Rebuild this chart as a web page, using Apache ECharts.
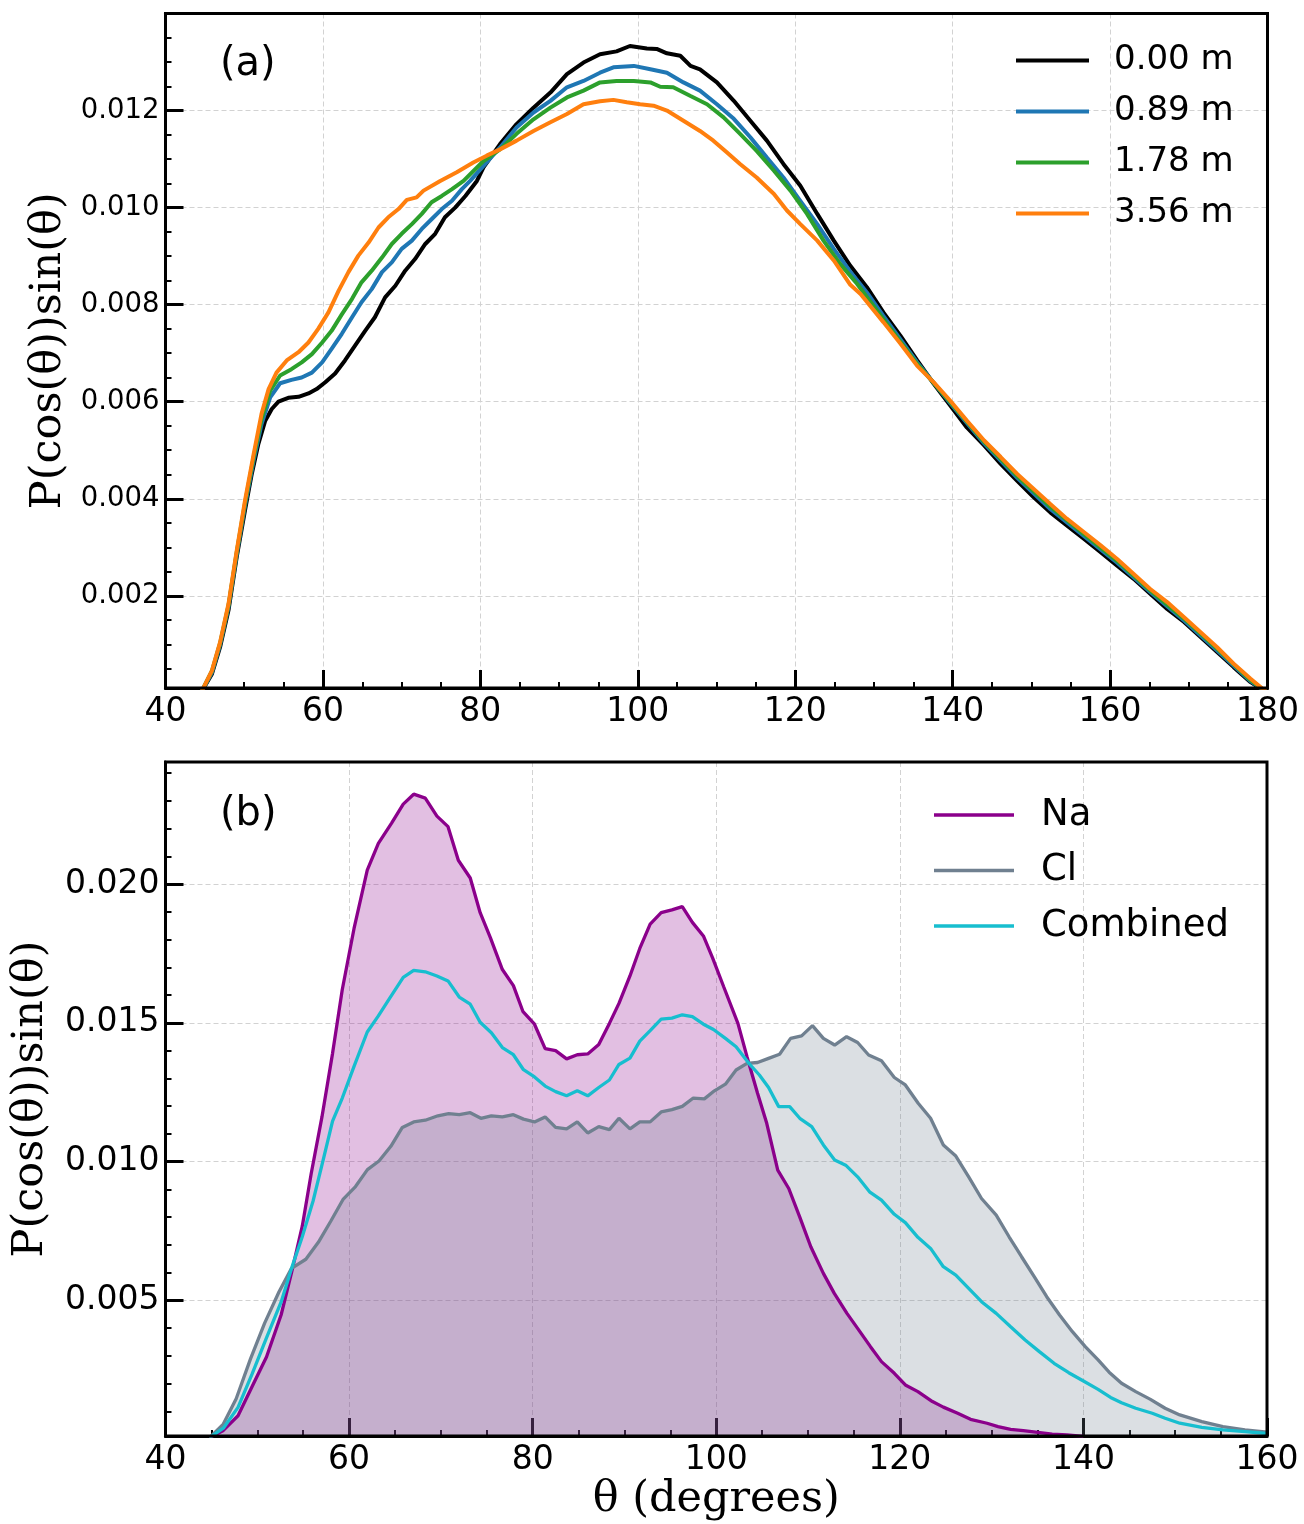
<!DOCTYPE html>
<html><head><meta charset="utf-8">
<script src="https://cdn.jsdelivr.net/npm/echarts@6/dist/echarts.min.js"></script>
<style>html,body{margin:0;padding:0;background:#fff}#c{width:1304px;height:1524px}</style>
</head><body><div id="c"></div>
<script>
// ---------- Panel (a) data: theta (deg), P(cos)sin ----------
const aNames = ['0.00 m', '0.89 m', '1.78 m', '3.56 m'];
const aColors = ['#000000', '#1f77b4', '#2ca02c', '#ff7f0e'];
const a000 = [[44.5,0],[45.9,0.00039],[46.93,0.00094],[48.0,0.00170],[49.05,0.00280],[50.1,0.00376],[50.96,0.00451],[51.8,0.00513],[52.65,0.00560],[53.5,0.00585],[54.35,0.00600],[55.6,0.00608],[56.9,0.00610],[58.16,0.00617],[59.2,0.00626],[60.3,0.00640],[61.55,0.00658],[62.8,0.00685],[64.1,0.00716],[65.36,0.00746],[66.6,0.00774],[67.9,0.00815],[69.2,0.00839],[70.45,0.00870],[71.7,0.00894],[73.0,0.00925],[74.26,0.00946],[75.5,0.00980],[76.8,0.01000],[78.1,0.01024],[79.56,0.01055],[80.4,0.01083],[82.5,0.01131],[84.6,0.01172],[86.75,0.01206],[88.9,0.01237],[91.0,0.01275],[93.1,0.01299],[95.2,0.01316],[97.3,0.01322],[99.0,0.01333],[101.15,0.01328],[102.4,0.01327],[103.7,0.01318],[105.4,0.01313],[106.7,0.01292],[107.9,0.01285],[110.05,0.01258],[112.2,0.01220],[114.3,0.01179],[116.4,0.01138],[118.5,0.01090],[120.65,0.01045],[122.8,0.00987],[124.9,0.00932],[127.0,0.00880],[129.1,0.00836],[131.2,0.00784],[133.36,0.00736],[135.5,0.00685],[137.6,0.00637],[139.7,0.00592],[141.8,0.00547],[144.0,0.00510],[146.1,0.00472],[148.2,0.00437],[150.3,0.00403],[152.4,0.00372],[154.5,0.00345],[156.7,0.00317],[158.8,0.00290],[160.9,0.00262],[163.0,0.00235],[165.1,0.00204],[167.25,0.00173],[169.4,0.00146],[171.5,0.00115],[173.6,0.00084],[175.7,0.00053],[177.85,0.00022],[180,0]];
const a089 = [[44.5,0],[45.9,0.00042],[46.93,0.00099],[48.0,0.00177],[49.05,0.00286],[50.1,0.00386],[51.2,0.00479],[52.2,0.00554],[53.3,0.00609],[54.56,0.00638],[56.0,0.00645],[57.3,0.00650],[58.6,0.00660],[59.9,0.00681],[61.1,0.00709],[62.4,0.00740],[63.7,0.00774],[64.9,0.00805],[66.2,0.00832],[67.5,0.00867],[68.75,0.00887],[70.0,0.00915],[71.3,0.00932],[72.56,0.00956],[73.8,0.00976],[75.1,0.00997],[76.4,0.01014],[77.65,0.01038],[78.7,0.01055],[80.4,0.01086],[82.5,0.01124],[84.6,0.01165],[86.75,0.01196],[88.9,0.01220],[91.0,0.01248],[93.1,0.01261],[95.2,0.01278],[96.9,0.01289],[99.5,0.01292],[101.6,0.01285],[103.7,0.01278],[105.8,0.01258],[107.9,0.01241],[110.05,0.01213],[112.2,0.01183],[114.3,0.01145],[116.4,0.01103],[118.5,0.01062],[120.65,0.01014],[122.8,0.00966],[124.9,0.00915],[127.0,0.00868],[129.1,0.00825],[131.2,0.00777],[135.5,0.00681],[139.7,0.00597],[144.0,0.00514],[148.2,0.00443],[152.4,0.00379],[156.7,0.00323],[160.9,0.00268],[165.1,0.00208],[169.4,0.00149],[173.6,0.00087],[177.85,0.00024],[180,0]];
const a178 = [[44.5,0],[45.9,0.00045],[46.93,0.00102],[48.0,0.00180],[49.05,0.00290],[50.1,0.00391],[51.2,0.00486],[52.2,0.00564],[53.3,0.00623],[54.56,0.00654],[56.0,0.00667],[57.3,0.00681],[58.6,0.00698],[59.9,0.00722],[61.1,0.00746],[62.4,0.00780],[63.7,0.00812],[64.9,0.00846],[66.2,0.00870],[67.5,0.00897],[68.75,0.00925],[70.0,0.00946],[71.3,0.00966],[72.56,0.00987],[73.8,0.01011],[75.1,0.01024],[76.4,0.01038],[77.86,0.01055],[80.4,0.01096],[82.5,0.01120],[84.6,0.01152],[86.75,0.01182],[88.9,0.01206],[91.0,0.01227],[93.1,0.01241],[95.2,0.01258],[97.3,0.01261],[99.5,0.01261],[101.6,0.01258],[102.85,0.01249],[104.5,0.01248],[106.7,0.01230],[108.8,0.01213],[110.9,0.01186],[113.0,0.01152],[115.1,0.01117],[117.3,0.01076],[119.4,0.01035],[121.5,0.00987],[123.6,0.00932],[125.7,0.00884],[127.85,0.00843],[131.2,0.00770],[135.5,0.00678],[139.7,0.00599],[144.0,0.00517],[148.2,0.00447],[152.4,0.00384],[156.7,0.00327],[160.9,0.00272],[165.1,0.00211],[169.4,0.00153],[173.6,0.00091],[177.85,0.00026],[180,0]];
const a356 = [[44.5,0],[45.9,0.00046],[46.93,0.00104],[48.0,0.00183],[49.05,0.00293],[50.1,0.00396],[51.2,0.00492],[52.2,0.00575],[53.1,0.00626],[54.1,0.00660],[55.4,0.00685],[56.9,0.00702],[58.16,0.00722],[59.4,0.00750],[60.7,0.00784],[62.0,0.00829],[63.24,0.00867],[64.5,0.00901],[65.8,0.00928],[67.06,0.00959],[68.3,0.00980],[69.6,0.00997],[70.66,0.01016],[71.9,0.01021],[72.78,0.01035],[74.9,0.01055],[77.0,0.01073],[79.1,0.01093],[80.8,0.01107],[82.5,0.01120],[84.6,0.01138],[86.75,0.01158],[88.9,0.01176],[91.0,0.01193],[93.1,0.01213],[95.2,0.01219],[96.9,0.01222],[98.6,0.01217],[100.3,0.01213],[102.0,0.01210],[103.7,0.01200],[105.8,0.01179],[107.9,0.01158],[109.6,0.01138],[111.3,0.01114],[112.99,0.01090],[115.1,0.01062],[117.3,0.01028],[118.95,0.00994],[120.65,0.00966],[122.8,0.00932],[124.9,0.00891],[127.0,0.00841],[128.3,0.00822],[131.2,0.00764],[133.36,0.00720],[135.5,0.00674],[137.6,0.00640],[139.7,0.00602],[141.8,0.00561],[144.0,0.00520],[146.1,0.00486],[148.2,0.00451],[150.3,0.00420],[152.4,0.00389],[154.5,0.00359],[156.7,0.00331],[158.8,0.00304],[160.9,0.00276],[163.0,0.00245],[165.1,0.00214],[167.25,0.00187],[169.4,0.00156],[171.5,0.00125],[173.6,0.00094],[175.7,0.00060],[177.85,0.00029],[180,0]];
const aYTicks = [0.002, 0.004, 0.006, 0.008, 0.010, 0.012];
const aYMinor = [0.0005,0.001,0.0015,0.0025,0.003,0.0035,0.0045,0.005,0.0055,0.0065,0.007,0.0075,0.0085,0.009,0.0095,0.0105,0.011,0.0115,0.0125,0.013,0.0135];

// ---------- Panel (b) data ----------
const bNames = ['Na', 'Cl', 'Combined'];
const bNa = [[44.8,0.00005],[46.3,0.00031],[47.9,0.00084],[49.45,0.00190],[51.0,0.00296],[52.6,0.00448],[53.73,0.00600],[54.9,0.00767],[55.87,0.00956],[57.04,0.01160],[58.2,0.01390],[59.26,0.01620],[60.54,0.01840],[61.98,0.02050],[63.19,0.02147],[64.63,0.02220],[65.9,0.02288],[67.04,0.02324],[68.3,0.02310],[69.57,0.02245],[70.78,0.02207],[71.9,0.02086],[73.2,0.02022],[74.28,0.01897],[75.4,0.01806],[76.7,0.01692],[77.9,0.01634],[78.95,0.01540],[80.2,0.01495],[81.36,0.01407],[82.5,0.01400],[83.7,0.01370],[84.86,0.01385],[86.0,0.01388],[87.2,0.01422],[88.36,0.01498],[89.4,0.01570],[90.6,0.01669],[91.67,0.01768],[92.8,0.01856],[94.0,0.01897],[95.17,0.01907],[96.3,0.01919],[97.4,0.01862],[98.6,0.01813],[99.6,0.01734],[100.8,0.01631],[102.36,0.01498],[103.35,0.01378],[104.5,0.01246],[105.5,0.01138],[106.7,0.00969],[107.9,0.00903],[109.1,0.00800],[110.3,0.00693],[111.67,0.00597],[112.86,0.00525],[114.24,0.00453],[115.4,0.00399],[116.8,0.00333],[118.0,0.00279],[119.4,0.00237],[120.6,0.00195],[121.97,0.00171],[123.55,0.00135],[124.74,0.00115],[126.3,0.00093],[127.7,0.00071],[129.5,0.00057],[130.7,0.00045],[132.07,0.00035],[133.45,0.00030],[135.04,0.00024],[136.6,0.00018],[138.2,0.00015],[140.0,0.00010]];
const bCl = [[44.8,0.00005],[46.3,0.00054],[47.7,0.00145],[49.26,0.00289],[50.8,0.00418],[52.37,0.00531],[53.73,0.00615],[55.29,0.00648],[56.65,0.00709],[58.0,0.00785],[59.37,0.00865],[60.7,0.00910],[62.0,0.00971],[63.26,0.01002],[64.55,0.01055],[65.8,0.01123],[67.04,0.01143],[68.3,0.01149],[69.68,0.01165],[70.85,0.01173],[72.0,0.01169],[73.2,0.01176],[74.36,0.01156],[75.5,0.01165],[76.7,0.01161],[77.9,0.01169],[79.0,0.01153],[80.2,0.01143],[81.36,0.01161],[82.5,0.01123],[83.7,0.01118],[84.86,0.01143],[86.0,0.01103],[87.2,0.01126],[88.36,0.01115],[89.4,0.01156],[90.6,0.01118],[91.67,0.01143],[92.8,0.01143],[94.0,0.01179],[95.17,0.01187],[96.3,0.01199],[97.5,0.01229],[98.7,0.01226],[99.8,0.01255],[101.0,0.01279],[102.16,0.01330],[103.35,0.01354],[104.5,0.01357],[105.7,0.01372],[106.9,0.01387],[108.1,0.01444],[109.3,0.01453],[110.48,0.01490],[111.67,0.01444],[112.9,0.01420],[114.2,0.01450],[115.4,0.01429],[116.6,0.01384],[118.0,0.01363],[119.4,0.01303],[120.6,0.01276],[122.0,0.01210],[123.35,0.01156],[124.74,0.01060],[126.1,0.01020],[127.5,0.00945],[128.9,0.00867],[130.5,0.00807],[131.9,0.00729],[133.26,0.00657],[134.64,0.00585],[136.0,0.00513],[137.4,0.00447],[138.8,0.00387],[140.2,0.00333],[141.6,0.00285],[142.8,0.00241],[144.15,0.00201],[145.7,0.00171],[147.3,0.00143],[148.9,0.00111],[150.5,0.00087],[152.9,0.00063],[155.2,0.00045],[157.6,0.00033],[160.0,0.00025]];
const bComb = [[44.8,0.00005],[46.3,0.00039],[47.9,0.00114],[49.45,0.00236],[51.0,0.00365],[52.6,0.00494],[53.73,0.00615],[54.9,0.00729],[56.07,0.00857],[57.2,0.01009],[58.2,0.01146],[59.26,0.01229],[60.54,0.01343],[61.98,0.01467],[63.19,0.01525],[64.43,0.01589],[65.9,0.01664],[67.04,0.01689],[68.3,0.01684],[69.57,0.01669],[70.78,0.01651],[72.0,0.01593],[73.2,0.01567],[74.28,0.01502],[75.5,0.01464],[76.7,0.01411],[77.9,0.01385],[79.0,0.01331],[80.2,0.01305],[81.36,0.01272],[82.5,0.01252],[83.7,0.01237],[84.86,0.01255],[86.0,0.01237],[87.2,0.01267],[88.36,0.01294],[89.4,0.01350],[90.6,0.01373],[91.67,0.01434],[92.8,0.01472],[94.0,0.01513],[95.17,0.01517],[96.3,0.01529],[97.4,0.01522],[98.6,0.01495],[99.7,0.01476],[101.0,0.01444],[102.16,0.01414],[103.55,0.01354],[104.7,0.01312],[105.7,0.01267],[106.8,0.01198],[108.0,0.01198],[109.1,0.01156],[110.4,0.01126],[111.67,0.01060],[112.9,0.01006],[114.1,0.00987],[115.4,0.00945],[116.7,0.00891],[118.0,0.00861],[119.4,0.00810],[120.6,0.00780],[121.97,0.00727],[123.35,0.00687],[124.74,0.00621],[126.1,0.00591],[127.5,0.00543],[128.9,0.00495],[130.5,0.00453],[132.07,0.00405],[133.65,0.00357],[135.2,0.00315],[136.8,0.00273],[138.4,0.00239],[140.0,0.00209],[141.6,0.00179],[142.96,0.00150],[144.15,0.00131],[145.7,0.00111],[147.5,0.00093],[148.9,0.00075],[150.5,0.00057],[152.9,0.00042],[155.2,0.00033],[157.6,0.00027],[160.0,0.00020]];
const bYTicks = [0.005, 0.010, 0.015, 0.020];
const bYMinor = [0.001,0.002,0.003,0.004,0.006,0.007,0.008,0.009,0.011,0.012,0.013,0.014,0.016,0.017,0.018,0.019,0.021,0.022,0.023,0.024];

const SANS = 'DejaVu Sans';
const SERIF = 'DejaVu Serif';
const splitStyle = {show: true, lineStyle: {color: '#d2d2d2', width: 1, type: [5, 3]}};
const majorTick = {show: true, inside: true, length: 18, lineStyle: {color: '#000', width: 3}};
const minorTickStyle = {show: true, inside: true, length: 6, lineStyle: {color: '#000', width: 2}};

function xAxis(gi, min, max, name, nameGap) {
  return {
    gridIndex: gi, type: 'value', min: min, max: max, interval: 20,
    axisLine: {show: true, onZero: false, lineStyle: {color: '#000', width: 3}},
    axisTick: majorTick,
    minorTick: {show: true, splitNumber: 4, length: 6, lineStyle: {color: '#000', width: 2}},
    minorSplitLine: {show: false},
    axisLabel: {fontFamily: SANS, fontSize: 33, color: '#000', margin: 8},
    splitLine: splitStyle,
    name: name, nameLocation: 'middle', nameGap: nameGap,
    nameTextStyle: {fontFamily: SERIF, fontSize: 43, color: '#000'}
  };
}
function yAxis(gi, min, max, step, ticks, fs, nameGap) {
  return {
    gridIndex: gi, type: 'value', min: min, max: max, minInterval: step, maxInterval: step,
    axisLine: {show: true, onZero: false, lineStyle: {color: '#000', width: 3}},
    axisTick: Object.assign({}, majorTick, {customValues: ticks}),
    axisLabel: {customValues: ticks, formatter: v => v.toFixed(3), fontFamily: SANS, fontSize: fs, color: '#000', margin: 6},
    splitLine: splitStyle,
    name: 'P(cos(θ))sin(θ)', nameLocation: 'middle', nameGap: nameGap,
    nameTextStyle: {fontFamily: SERIF, fontSize: 43, color: '#000'}
  };
}
function yMinor(gi, min, max, ticks) {
  return {
    gridIndex: gi, type: 'value', min: min, max: max, position: 'left',
    axisLine: {show: false}, axisLabel: {show: false}, splitLine: {show: false},
    axisTick: Object.assign({}, minorTickStyle, {customValues: ticks})
  };
}
function lineSeries(name, data, color, width, xi, yi) {
  return {name: name, type: 'line', data: data, xAxisIndex: xi, yAxisIndex: yi,
    color: color, showSymbol: false, symbol: 'none', smooth: false, clip: true,
    lineStyle: {color: color, width: width}, z: 3};
}
function fillSeries(name, data, rgba, xi, yi) {
  return {name: name, type: 'line', data: data, xAxisIndex: xi, yAxisIndex: yi,
    showSymbol: false, symbol: 'none', clip: true, silent: true,
    lineStyle: {width: 0, opacity: 0}, areaStyle: {color: rgba, opacity: 1, origin: 'start'}, z: 2};
}

const aData = [a000, a089, a178, a356];
const series = [];
aData.forEach((d, i) => series.push(lineSeries(aNames[i], d, aColors[i], 4, 0, 0)));
series.push(fillSeries('Na fill', bNa, 'rgba(139,0,139,0.25)', 1, 2));
series.push(fillSeries('Cl fill', bCl, 'rgba(112,128,144,0.25)', 1, 2));
series.push(lineSeries('Na', bNa, '#8b008b', 3.3, 1, 2));
series.push(lineSeries('Cl', bCl, '#708090', 3.3, 1, 2));
series.push(lineSeries('Combined', bComb, '#17becf', 3.3, 1, 2));

const option = {
  animation: false,
  backgroundColor: '#ffffff',
  grid: [
    {left: 165.5, top: 13.5, width: 1102, height: 674.5, show: true, z: 10, borderColor: '#000', borderWidth: 3, backgroundColor: 'transparent'},
    {left: 165.5, top: 762, width: 1101.5, height: 674, show: true, z: 10, borderColor: '#000', borderWidth: 3, backgroundColor: 'transparent'}
  ],
  xAxis: [xAxis(0, 40, 180, '', 0), xAxis(1, 40, 160, 'θ (degrees)', 42)],
  yAxis: [
    yAxis(0, 0.0001, 0.014, 0.002, aYTicks, 27.5, 94),
    yMinor(0, 0.0001, 0.014, aYMinor),
    yAxis(1, 0.00011, 0.0244, 0.005, bYTicks, 33, 113),
    yMinor(1, 0.00011, 0.0244, bYMinor)
  ],
  title: [
    {text: '(a)', left: 220, top: 45, padding: 0, textStyle: {fontFamily: SANS, fontSize: 40, fontWeight: 'normal', color: '#000'}},
    {text: '(b)', left: 220, top: 795, padding: 0, textStyle: {fontFamily: SANS, fontSize: 40, fontWeight: 'normal', color: '#000'}}
  ],
  legend: [
    {data: aNames, orient: 'vertical', left: 1016, top: 43.5, padding: 0, itemWidth: 73, itemHeight: 4, itemGap: 17,
     icon: 'rect', selectedMode: false, textStyle: {fontFamily: SANS, fontSize: 34, color: '#000', padding: [0, 0, 0, 20]}},
    {data: bNames, orient: 'vertical', left: 934, top: 796.5, padding: 0, itemWidth: 80, itemHeight: 3.5, itemGap: 18.5,
     icon: 'rect', selectedMode: false, textStyle: {fontFamily: SANS, fontSize: 37, color: '#000', padding: [0, 0, 0, 22]}}
  ],
  series: series
};
const chart = echarts.init(document.getElementById('c'), null, {renderer: 'canvas', width: 1304, height: 1524});
chart.setOption(option);
</script>
</body></html>
